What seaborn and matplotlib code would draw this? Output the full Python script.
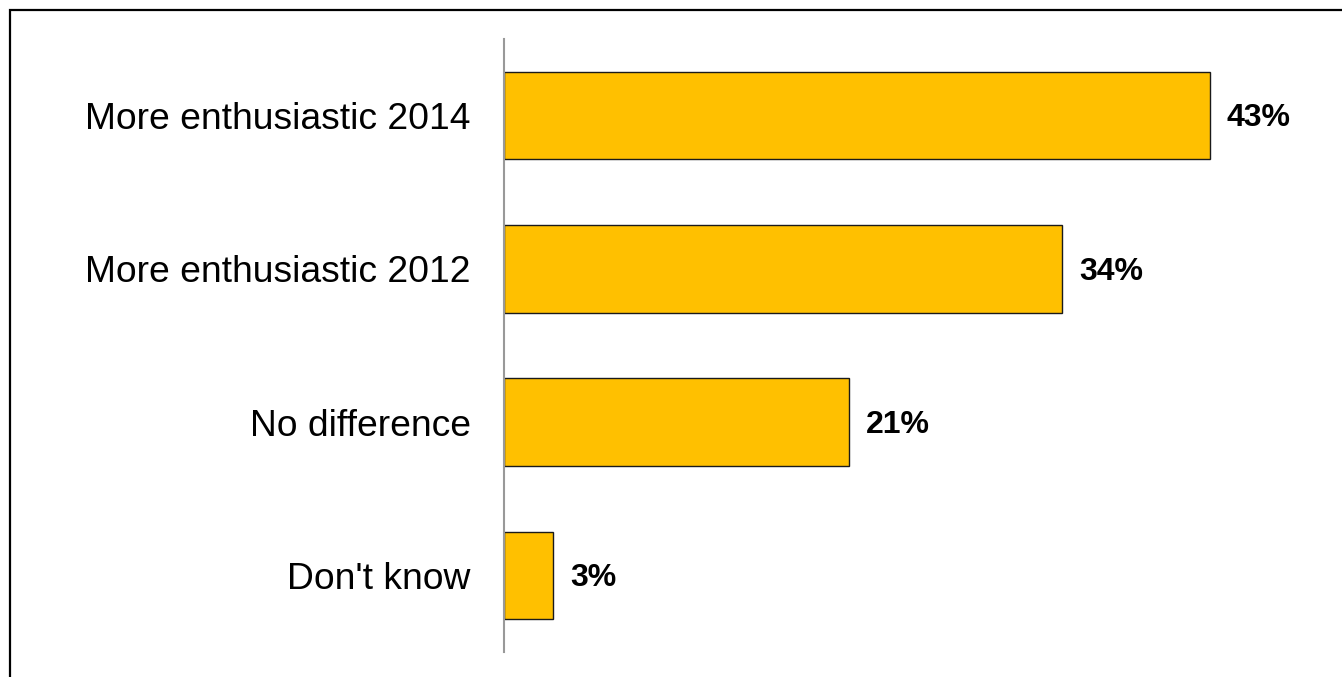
import matplotlib
matplotlib.use("Agg")
import matplotlib.pyplot as plt
import seaborn as sns
import pandas as pd
from matplotlib.patches import Rectangle

categories = ["More enthusiastic 2014", "More enthusiastic 2012", "No difference", "Don't know"]
values = [43, 34, 21, 3]
value_labels = ["43%", "34%", "21%", "3%"]

sns.set_theme(style="white")
plt.rcParams['font.family'] = ['Liberation Sans', 'DejaVu Sans']

W, H = 1342, 677
fig = plt.figure(figsize=(W / 100, H / 100), dpi=100)
ax = fig.add_axes([504 / W, 1 - 652 / H, (1330 - 504) / W, (652 - 39) / H])

df = pd.DataFrame({"cat": categories, "val": values})
sns.barplot(data=df, x="val", y="cat", orient="h", color="#FFC000",
            saturation=1, width=0.57, edgecolor="#1a1a1a", linewidth=1.0, ax=ax)

ax.set_xlim(0, (1330 - 504) / 16.42)
ax.set_ylim(3.5, -0.5)
ax.set_xlabel("")
ax.set_ylabel("")
ax.set_xticks([])
for s in ["top", "right", "bottom"]:
    ax.spines[s].set_visible(False)
ax.spines["left"].set_color("#999999")
ax.spines["left"].set_linewidth(1.5)
ax.tick_params(axis="y", length=0, pad=24, labelsize=26.8, labelcolor="black")

for i, (v, t) in enumerate(zip(values, value_labels)):
    ax.annotate(t, xy=(v, i), xytext=(12, -2), textcoords="offset points",
                va="center", ha="left", fontsize=23, fontweight="bold", color="black")

fig.patches.append(Rectangle((10 / W, -0.1), 1.2, 1 - 10 / H + 0.1, transform=fig.transFigure,
                             fill=False, edgecolor="black", linewidth=1.6))

fig.savefig("out.png", dpi=100, facecolor="white")
